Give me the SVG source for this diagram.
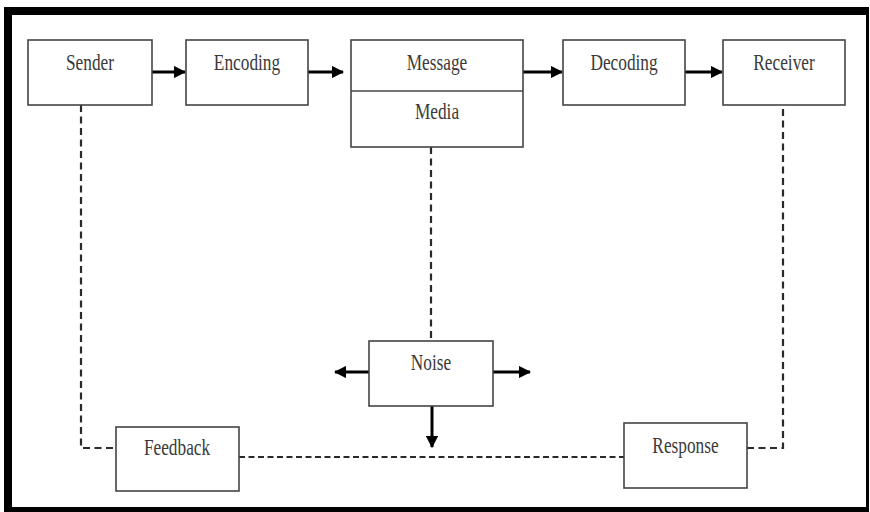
<svg xmlns="http://www.w3.org/2000/svg" width="870" height="512" viewBox="0 0 870 512">
<style>
.box{fill:#fff;stroke:#444;stroke-width:1.6}
.t{font-family:"Liberation Serif","Times New Roman",serif;font-size:17.3px;fill:#3a3a3a;text-anchor:middle}
.arr{stroke:#000;stroke-width:3;fill:none}
.dh{stroke:#2a2a2a;stroke-width:2.2;fill:none;stroke-dasharray:6 3.5}
.dv{stroke:#2a2a2a;stroke-width:2.2;fill:none;stroke-dasharray:7 4.5}
</style>
<defs>
<marker id="ah" markerWidth="4.2" markerHeight="4.2" refX="3.8" refY="2.1" orient="auto" markerUnits="strokeWidth">
<path d="M0,0 L4.2,2.1 L0,4.2 z" fill="#000"/>
</marker>
</defs>
<rect width="870" height="512" fill="#fff"/>
<path d="M4,7 H869 V512 H4 Z M12,15 V507 H866 V15 Z" fill="#000" fill-rule="evenodd"/>

<g id="connectors">
<line class="arr" x1="152" y1="72" x2="185" y2="72" marker-end="url(#ah)"/>
<line class="arr" x1="308" y1="72" x2="343" y2="72" marker-end="url(#ah)"/>
<line class="arr" x1="523" y1="72" x2="562" y2="72" marker-end="url(#ah)"/>
<line class="arr" x1="685" y1="72" x2="722" y2="72" marker-end="url(#ah)"/>
<line class="arr" x1="369" y1="372" x2="335" y2="372" marker-end="url(#ah)"/>
<line class="arr" x1="493" y1="372" x2="530" y2="372" marker-end="url(#ah)"/>
<line class="arr" x1="432" y1="406" x2="432" y2="447" marker-end="url(#ah)"/>
<line class="dv" x1="431" y1="147" x2="431" y2="341"/>
<polyline class="dv" points="81,105 81,448 116,448"/>
<line class="dh" x1="239" y1="457" x2="624" y2="457"/>
<polyline class="dv" points="747,448 783,448 783,105"/>
</g>

<g id="sender"><rect class="box" x="28" y="40" width="124" height="65"/>
<text class="t" transform="translate(90,70) scale(1,1.37)">Sender</text></g>
<g id="encoding"><rect class="box" x="186" y="40" width="122" height="65"/>
<text class="t" transform="translate(247,70) scale(1,1.37)">Encoding</text></g>
<g id="message"><rect class="box" x="351" y="40" width="172" height="107"/>
<line x1="351" y1="91" x2="523" y2="91" stroke="#444" stroke-width="1.6"/>
<text class="t" transform="translate(437,70) scale(1,1.37)">Message</text>
<text class="t" transform="translate(437,119) scale(1,1.37)">Media</text></g>
<g id="decoding"><rect class="box" x="563" y="40" width="122" height="65"/>
<text class="t" transform="translate(624,70) scale(1,1.37)">Decoding</text></g>
<g id="receiver"><rect class="box" x="723" y="40" width="122" height="65"/>
<text class="t" transform="translate(784,70) scale(1,1.37)">Receiver</text></g>
<g id="noise"><rect class="box" x="369" y="341" width="124" height="65"/>
<text class="t" transform="translate(431,370) scale(1,1.37)">Noise</text></g>
<g id="feedback"><rect class="box" x="116" y="427" width="123" height="64"/>
<text class="t" transform="translate(177,455) scale(1,1.37)">Feedback</text></g>
<g id="response"><rect class="box" x="624" y="423" width="123" height="65"/>
<text class="t" transform="translate(685.5,453) scale(1,1.37)">Response</text></g>
</svg>
